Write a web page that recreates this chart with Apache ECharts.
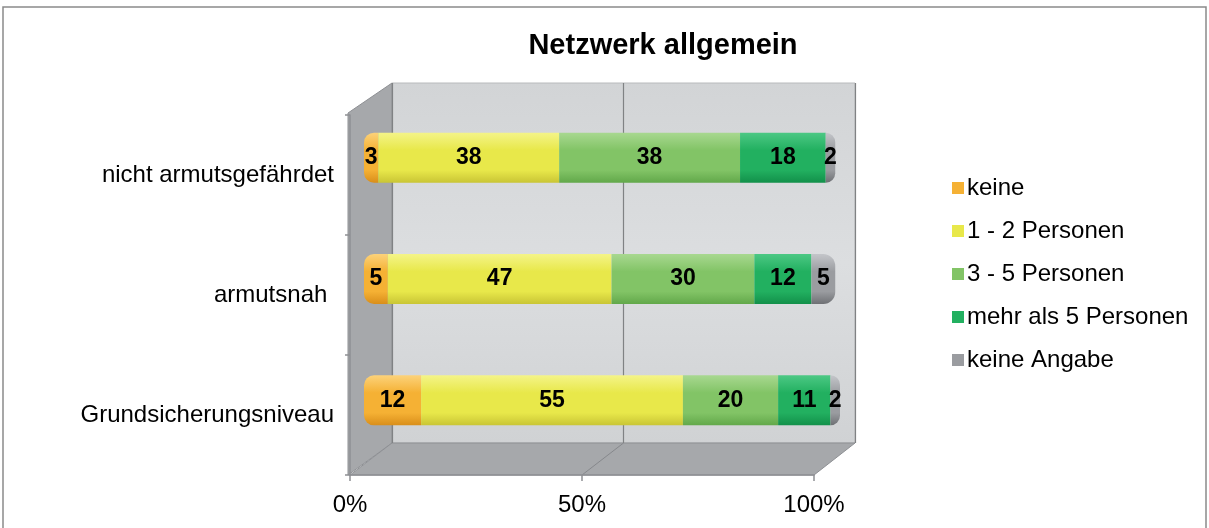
<!DOCTYPE html>
<html>
<head>
<meta charset="utf-8">
<script src="https://cdn.jsdelivr.net/npm/echarts@6/dist/echarts.min.js"></script>
<style>
  html, body { margin: 0; padding: 0; background: #fff; }
  #chart { width: 1209px; height: 528px; }
</style>
</head>
<body>
<div id="chart"></div>
<script>
const categories = ['nicht armutsgefährdet', 'armutsnah ', 'Grundsicherungsniveau']
const seriesNames = ['keine', '1 - 2 Personen', '3 - 5 Personen', 'mehr als 5 Personen', 'keine Angabe']
const keine = [3, 5, 12]
const einsZwei = [38, 47, 55]
const dreiFuenf = [38, 30, 20]
const mehrAls5 = [18, 12, 11]
const keineAngabe = [2, 5, 2]
const xTicks = [0, 50, 100]

// Farben: [hell, mitte, dunkel] für den Zylinder-Effekt
const colors = [
    ['#fcd27a', '#f5b134', '#d98e1a'],
    ['#f4f488', '#e8e84a', '#c9c535'],
    ['#a8d890', '#82c466', '#62a84a'],
    ['#4cc884', '#22b060', '#12904a'],
    ['#c4c6ca', '#9a9ca0', '#6e7074']
]
const values = [keine, einsZwei, dreiFuenf, mehrAls5, keineAngabe]

const chart = echarts.init(document.getElementById('chart'))
const font = '"Liberation Sans", Arial, sans-serif'

// 3D-Rahmen (Rückwand, Seitenwand, Boden)
const back = {x0: 392, x1: 855, y0: 83, y1: 443}
const front = {x0: 350, x1: 814, y0: 115, y1: 475}

const option = {
    animation: false,
    title: {
        text: 'Netzwerk allgemein',
        left: 658,
        top: 26,
        textAlign: 'center',
        textStyle: {fontFamily: font, fontSize: 29, fontWeight: 'bold', color: '#000'}
    },
    legend: {
        orient: 'vertical',
        left: 947,
        top: 171,
        itemWidth: 12,
        itemHeight: 12,
        itemGap: 19,
        icon: 'rect',
        textStyle: {fontFamily: font, fontSize: 24, color: '#000', padding: [0, 0, 0, -2]},
        data: seriesNames.map((n, i) => ({name: n, itemStyle: {color: colors[i][1]}}))
    },
    graphic: [
        {
            type: 'rect', z: -20, silent: true,
            shape: {x: 3, y: 7, width: 1203, height: 540},
            style: {fill: '#fff', stroke: '#8a8a8a', lineWidth: 1.5}
        },
        {
            type: 'rect', z: -10, silent: true,
            shape: {x: back.x0, y: back.y0, width: back.x1 - back.x0, height: back.y1 - back.y0},
            style: {
                fill: new echarts.graphic.LinearGradient(0, 0, 0, 1, [
                    {offset: 0, color: '#d2d4d6'},
                    {offset: 0.5, color: '#dcdee0'},
                    {offset: 1, color: '#d0d2d4'}
                ]),
                stroke: '#b8babc', lineWidth: 1
            }
        },
        {
            type: 'polygon', z: -9, silent: true,
            shape: {points: [[front.x0 - 2, front.y0 - 2], [back.x0, back.y0], [back.x0, back.y1], [front.x0 - 2, front.y1]]},
            style: {fill: '#a6a8ab', stroke: '#8e9094', lineWidth: 1}
        },
        {
            type: 'polygon', z: -9, silent: true,
            shape: {points: [[front.x0, front.y1], [back.x0, back.y1], [back.x1, back.y1], [front.x1, front.y1]]},
            style: {fill: '#a6a8ab', stroke: '#8e9094', lineWidth: 1}
        },
        {
            type: 'line', z: -8, silent: true,
            shape: {x1: (front.x0 + front.x1) / 2, y1: front.y1, x2: (back.x0 + back.x1) / 2, y2: back.y1},
            style: {stroke: '#86888c', lineWidth: 1}
        }
    ],
    grid: [
        // Rückwand
        {left: back.x0, right: 1209 - back.x1, top: back.y0, bottom: 528 - back.y1},
        // Balken
        {left: 364, right: 369, top: 97, bottom: 67},
        // vordere Achsen
        {left: front.x0, right: 1209 - front.x1, top: front.y0, bottom: 528 - front.y1}
    ],
    xAxis: [
        {
            gridIndex: 0, type: 'value', min: 0, max: 100, interval: 50,
            axisLine: {show: false}, axisTick: {show: false}, axisLabel: {show: false},
            splitLine: {show: true, lineStyle: {color: '#808284', width: 1.2}}
        },
        {
            gridIndex: 1, type: 'value', min: 0, max: 100, show: false,
            splitLine: {show: false}
        },
        {
            gridIndex: 2, type: 'value', min: 0, max: 100, interval: 50,
            axisLine: {show: true, lineStyle: {color: '#8e9094', width: 1.5}},
            axisTick: {show: true, length: 6, lineStyle: {color: '#8e9094', width: 1.5}},
            axisLabel: {
                margin: 18, fontFamily: font, fontSize: 24, color: '#000',
                formatter: v => xTicks.includes(v) ? v + '%' : ''
            },
            splitLine: {show: false}
        }
    ],
    yAxis: [
        {gridIndex: 0, type: 'category', data: categories, show: false},
        {gridIndex: 1, type: 'category', data: categories, inverse: true, show: false},
        {
            gridIndex: 2, type: 'category', data: categories, inverse: true,
            axisLine: {show: true, lineStyle: {color: '#8e9094', width: 1.5}},
            axisTick: {show: true, length: 5, lineStyle: {color: '#8e9094', width: 1.5}},
            axisLabel: {margin: 16, fontFamily: font, fontSize: 24, color: '#000'}
        }
    ],
    series: seriesNames.map((name, i) => ({
        name: name,
        type: 'bar',
        stack: 'total',
        xAxisIndex: 1,
        yAxisIndex: 1,
        barWidth: 50,
        data: values[i],
        itemStyle: {
            color: new echarts.graphic.LinearGradient(0, 0, 0, 1, [
                {offset: 0, color: colors[i][0]},
                {offset: 0.35, color: colors[i][1]},
                {offset: 0.75, color: colors[i][1]},
                {offset: 1, color: colors[i][2]}
            ]),
            borderRadius: i === 0 ? [10, 0, 0, 10] : (i === 4 ? [0, 12, 12, 0] : 0)
        },
        label: {
            show: true,
            position: 'inside',
            fontFamily: font,
            fontSize: 23,
            fontWeight: 'bold',
            color: '#000'
        }
    }))
}

chart.setOption(option)

window.addEventListener('resize', () => {
    chart.resize()
})
</script>
</body>
</html>
